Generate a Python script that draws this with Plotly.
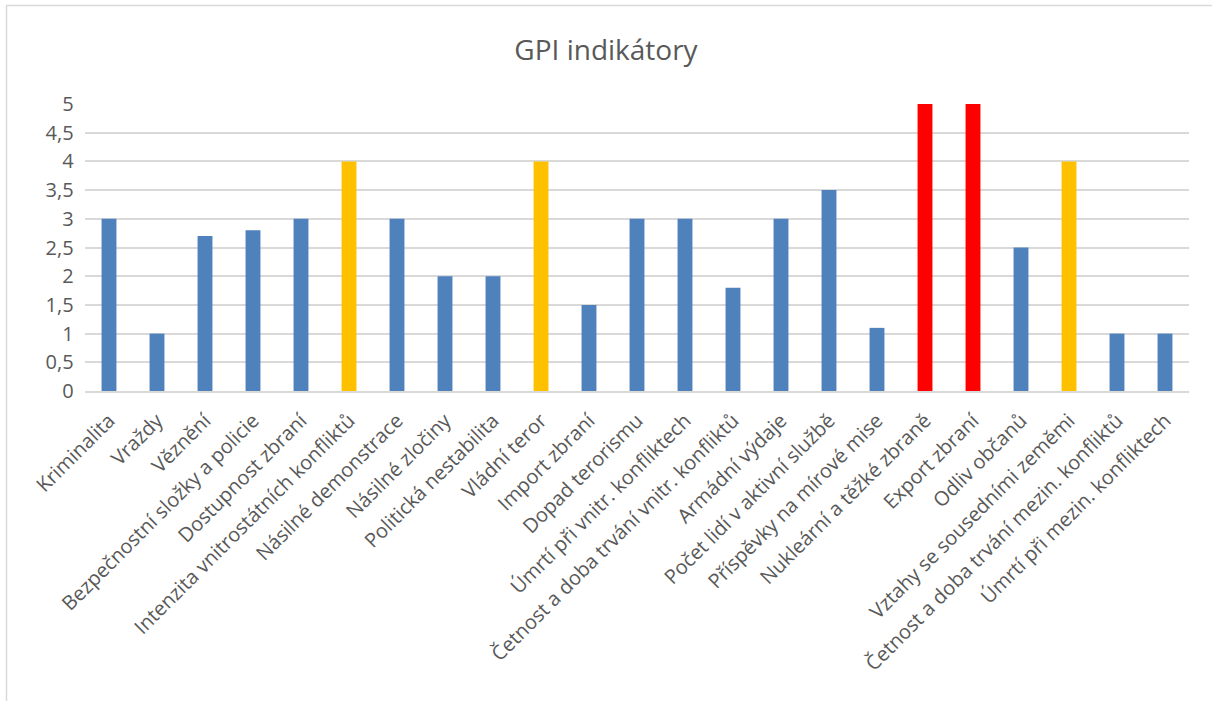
import plotly.graph_objects as go

categories = [
    "Kriminalita", "Vraždy", "Věznění", "Bezpečnostní složky a policie",
    "Dostupnost zbraní", "Intenzita vnitrostátních konfliktů", "Násilné demonstrace",
    "Násilné zločiny", "Politická nestabilita", "Vládní teror", "Import zbraní",
    "Dopad terorismu", "Úmrtí při vnitr. konfliktech",
    "Četnost a doba trvání vnitr. konfliktů", "Armádní výdaje",
    "Počet lidí v aktivní službě", "Příspěvky na mírové mise",
    "Nukleární a těžké zbraně", "Export zbraní", "Odliv občanů",
    "Vztahy se sousedními zeměmi", "Četnost a doba trvání mezin. konfliktů",
    "Úmrtí při mezin. konfliktech",
]
values = [3, 1, 2.7, 2.8, 3, 4, 3, 2, 2, 4, 1.5, 3, 3, 1.8, 3, 3.5, 1.1, 5, 5, 2.5, 4, 1, 1]

BLUE, ORANGE, RED = "#4f81bd", "#ffc000", "#ff0000"
colors = [RED if v >= 5 else ORANGE if v >= 4 else BLUE for v in values]

fig = go.Figure(go.Bar(x=categories, y=values, marker=dict(color=colors, line=dict(width=0)), width=0.31))

L, R, T, B = 85, 23, 104, 310
W, H = 1212, 701
pw, ph = W - L - R, H - T - B

fig.update_layout(
    width=W, height=H,
    margin=dict(l=L, r=R, t=T, b=B, autoexpand=False),
    paper_bgcolor="white", plot_bgcolor="white",
    separators=", ",
    font=dict(family="Open Sans, Noto Sans, sans-serif", color="#595959"),
    title=dict(text="GPI indikátory", x=0.5, xanchor="center", y=1 - 50 / H, yanchor="middle",
               font=dict(size=28, color="#595959")),
    showlegend=False,
    shapes=[dict(type="rect", xref="paper", yref="paper",
                 x0=(6.5 - L) / pw, x1=(1230 - L) / pw,
                 y0=(H - B - 720) / ph, y1=(H - B - 5.5) / ph,
                 line=dict(color="#d9d9d9", width=1.5), fillcolor="rgba(0,0,0,0)", layer="below")],
)
fig.update_xaxes(tickangle=-45, tickfont=dict(size=20, color="#595959"), showgrid=False,
                 showline=True, linecolor="#d9d9d9", linewidth=2, automargin=False,
                 ticks="outside", ticklen=8, tickcolor="rgba(0,0,0,0)")
fig.update_yaxes(range=[0, 5], dtick=0.5, tickformat=".1~f", tickfont=dict(size=20, color="#595959"),
                 showgrid=True, gridcolor="#d9d9d9", gridwidth=1.5, zeroline=False,
                 automargin=False, ticks="", ticksuffix="\u00a0\u00a0")

fig.write_html("out.html", config={"displayModeBar": False},
               post_script="document.body.style.margin='0px';")
